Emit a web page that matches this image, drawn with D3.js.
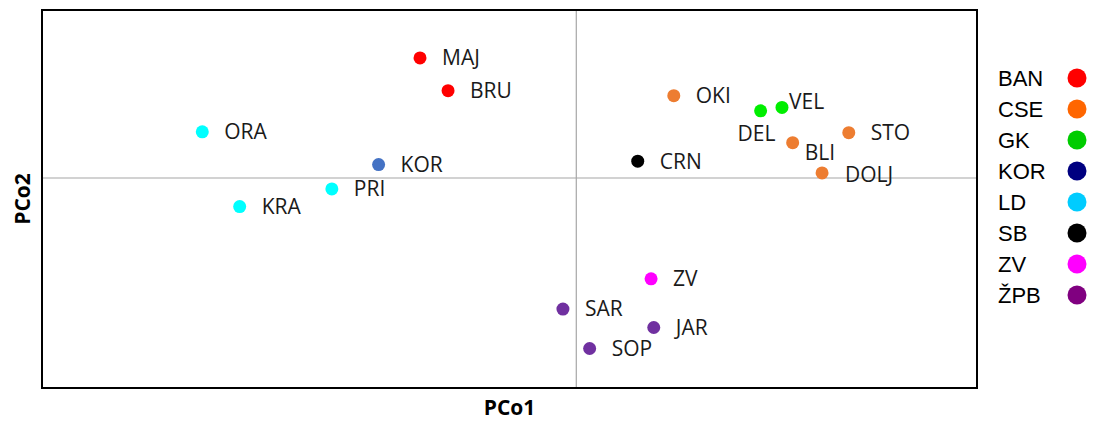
<!DOCTYPE html>
<html>
<head>
<meta charset="utf-8">
<script src="https://cdn.jsdelivr.net/npm/d3@7"></script>
<style>
  body { margin: 0; background: #fff; }
  svg { display: block; }
</style>
</head>
<body>
<svg id="chart"></svg>
<script>
// sites
const sites  = ['MAJ', 'BRU', 'ORA', 'KOR', 'PRI', 'KRA', 'OKI', 'DEL', 'VEL', 'STO', 'BLI', 'CRN', 'DOLJ', 'ZV', 'SAR', 'JAR', 'SOP'];
const pco1   = [-0.117, -0.096, -0.280, -0.148, -0.183, -0.252, 0.073, 0.138, 0.154, 0.204, 0.162, 0.046, 0.184, 0.056, -0.010, 0.058, 0.010];
const pco2   = [0.143, 0.104, 0.055, 0.016, -0.013, -0.034, 0.098, 0.080, 0.084, 0.054, 0.042, 0.020, 0.006, -0.120, -0.156, -0.178, -0.203];
const groups = ['BAN', 'BAN', 'LD', 'KOR', 'LD', 'LD', 'CSE', 'GK', 'GK', 'CSE', 'CSE', 'SB', 'CSE', 'ZV', 'ŽPB', 'ŽPB', 'ŽPB'];

// legend
const legendGroups = ['BAN', 'CSE', 'GK', 'KOR', 'LD', 'SB', 'ZV', 'ŽPB'];
const legendColors = ['#ff0000', '#ff6600', '#00cc00', '#000080', '#00ccff', '#000000', '#ff00ff', '#800080'];
// colours used on the points themselves
const pointColors  = ['#ff0000', '#ed7d31', '#00ee00', '#4472c4', '#00ffff', '#000000', '#ff00ff', '#7030a0'];

const width = 1093, height = 421;
const margin = { top: 10, right: 116, bottom: 33, left: 42 };

const svg = d3.select('#chart')
  .attr('width', width)
  .attr('height', height);

const x = d3.scaleLinear()
  .domain([-0.4, 0.3])
  .range([margin.left, width - margin.right]);

const y = d3.scaleLinear()
  .domain([-0.25, 0.2])
  .range([height - margin.bottom, margin.top]);

// zero lines
svg.append('line')
  .attr('x1', x(0)).attr('x2', x(0))
  .attr('y1', y.range()[1]).attr('y2', y.range()[0])
  .attr('stroke', '#a6a6a6').attr('stroke-width', 1.2);
svg.append('line')
  .attr('x1', x.range()[0]).attr('x2', x.range()[1])
  .attr('y1', y(0)).attr('y2', y(0))
  .attr('stroke', '#a6a6a6').attr('stroke-width', 1.2);

// frame
svg.append('rect')
  .attr('x', x.range()[0])
  .attr('y', y.range()[1])
  .attr('width', x.range()[1] - x.range()[0])
  .attr('height', y.range()[0] - y.range()[1])
  .attr('fill', 'none')
  .attr('stroke', '#000')
  .attr('stroke-width', 2);

const data = sites.map((s, i) => ({ site: s, x: pco1[i], y: pco2[i], group: groups[i] }));
const color = d3.scaleOrdinal().domain(legendGroups).range(pointColors);

// label offsets, default is right of the point
const labelOffset = {
  DEL: [-23, 23],
  VEL: [7, -6],
  BLI: [12, 10],
  DOLJ: [23, 2]
};

svg.append('g')
  .selectAll('circle')
  .data(data)
  .enter()
  .append('circle')
  .attr('cx', d => x(d.x))
  .attr('cy', d => y(d.y))
  .attr('r', 6.5)
  .attr('fill', d => color(d.group));

svg.append('g')
  .selectAll('text')
  .data(data)
  .enter()
  .append('text')
  .attr('x', d => x(d.x) + (labelOffset[d.site] ? labelOffset[d.site][0] : 22))
  .attr('y', d => y(d.y) + (labelOffset[d.site] ? labelOffset[d.site][1] : 0))
  .attr('dy', '0.35em')
  .style('font-family', '"Open Sans", sans-serif')
  .style('font-size', '21px')
  .style('fill', '#1a1a1a')
  .text(d => d.site);

// axis titles
svg.append('text')
  .attr('x', (x.range()[0] + x.range()[1]) / 2)
  .attr('y', 415)
  .attr('text-anchor', 'middle')
  .style('font-family', '"Open Sans", sans-serif')
  .style('font-weight', 'bold')
  .style('font-size', '21px')
  .text('PCo1');

svg.append('text')
  .attr('transform', `translate(30, ${(y.range()[0] + y.range()[1]) / 2}) rotate(-90)`)
  .attr('text-anchor', 'middle')
  .style('font-family', '"Open Sans", sans-serif')
  .style('font-weight', 'bold')
  .style('font-size', '21px')
  .text('PCo2');

// legend
const legend = svg.append('g')
  .selectAll('g')
  .data(legendGroups)
  .enter()
  .append('g')
  .attr('transform', (d, i) => `translate(0, ${78 + i * 31})`);

legend.append('text')
  .attr('x', 998)
  .attr('dy', '0.36em')
  .style('font-family', '"Liberation Sans", Arial, sans-serif')
  .style('font-size', '22px')
  .text(d => d);

legend.append('circle')
  .attr('cx', 1077)
  .attr('r', 9.5)
  .attr('fill', (d, i) => legendColors[i]);
</script>
</body>
</html>
